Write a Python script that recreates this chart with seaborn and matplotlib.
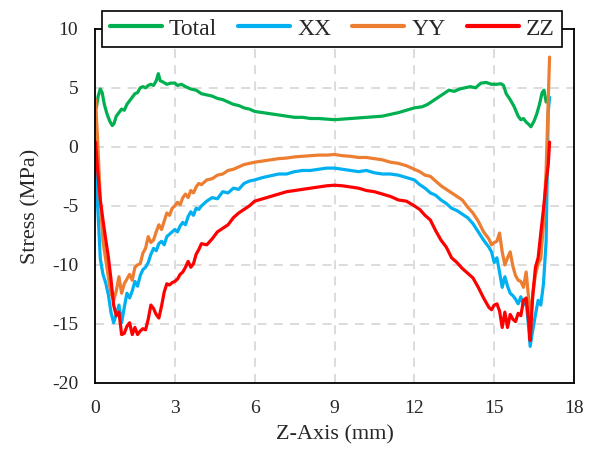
import numpy as np
import pandas as pd
import matplotlib
matplotlib.use("Agg")
import matplotlib.pyplot as plt
import seaborn as sns

# ---- data ----
x_total = [0.05, 0.12, 0.2, 0.27, 0.35, 0.45, 0.55, 0.65, 0.72, 0.8,
           0.9, 1.0, 1.1, 1.2, 1.3, 1.4, 1.5, 1.6, 1.7, 1.8,
           1.9, 2.0, 2.1, 2.2, 2.3, 2.38, 2.45, 2.55, 2.7, 2.85,
           3.0, 3.1, 3.25, 3.4, 3.6, 3.8, 4.0, 4.2, 4.4, 4.6,
           4.8, 5.0, 5.2, 5.4, 5.6, 5.8, 6.0, 6.3, 6.6, 6.9,
           7.2, 7.5, 7.8, 8.1, 8.4, 8.7, 9.0, 9.3, 9.6, 9.9,
           10.2, 10.5, 10.8, 11.1, 11.4, 11.7, 12.0, 12.3, 12.5, 12.7,
           12.9, 13.1, 13.3, 13.5, 13.7, 13.9, 14.1, 14.3, 14.5, 14.7,
           14.9, 15.1, 15.25, 15.35, 15.45, 15.6, 15.75, 15.9, 16.0, 16.1,
           16.2, 16.3, 16.38, 16.5, 16.6, 16.7, 16.8, 16.87, 16.95]
y_total = [3.3, 4.3, 4.9, 4.6, 3.6, 2.8, 2.2, 1.8, 2.0, 2.6,
           2.9, 3.2, 3.1, 3.6, 3.9, 4.2, 4.5, 4.6, 5.0, 5.1,
           5.0, 5.2, 5.3, 5.2, 5.6, 6.2, 5.6, 5.5, 5.3, 5.4,
           5.4, 5.2, 5.3, 5.1, 4.9, 4.8, 4.5, 4.4, 4.3, 4.1,
           4.0, 3.8, 3.6, 3.5, 3.3, 3.2, 3.0, 2.9, 2.8, 2.7,
           2.6, 2.5, 2.5, 2.4, 2.4, 2.35, 2.3, 2.35, 2.4, 2.45,
           2.5, 2.55, 2.6, 2.75, 2.9, 3.1, 3.3, 3.4, 3.6, 3.9,
           4.2, 4.5, 4.8, 4.7, 4.9, 5.0, 5.1, 5.0, 5.4, 5.45,
           5.3, 5.3, 5.35, 5.2, 4.5, 4.0, 3.4, 2.6, 2.3, 2.4,
           2.1, 1.9, 1.7, 2.2, 2.8, 3.6, 4.6, 4.8, 3.8]

x_comp = [0.02, 0.1, 0.2, 0.3, 0.4, 0.5, 0.6, 0.7, 0.8, 0.9,
          1.0, 1.1, 1.2, 1.3, 1.4, 1.5, 1.6, 1.7, 1.8, 1.9,
          2.0, 2.1, 2.2, 2.3, 2.4, 2.5, 2.6, 2.7, 2.8, 2.9,
          3.0, 3.1, 3.2, 3.3, 3.4, 3.5, 3.6, 3.7, 3.8, 3.9,
          4.0, 4.2, 4.4, 4.6, 4.8,
          5.0, 5.2, 5.4, 5.6, 5.8,
          6.0, 6.3, 6.6, 6.9,
          7.2, 7.5, 7.8,
          8.1, 8.4, 8.7,
          9.0, 9.3, 9.6, 9.9,
          10.2, 10.5, 10.8,
          11.1, 11.4, 11.7,
          12.0, 12.2, 12.4, 12.6, 12.8,
          13.0, 13.2, 13.4, 13.6, 13.8,
          14.0, 14.2, 14.4, 14.6, 14.8,
          14.9, 15.0, 15.1, 15.2, 15.3, 15.4, 15.5, 15.6, 15.7, 15.8, 15.9,
          16.0, 16.1, 16.2, 16.3,
          16.35, 16.45, 16.55, 16.65, 16.75, 16.85, 16.95,
          17.03, 17.08]

y_xx = [-0.5, -5.0, -9.5, -10.8, -11.5, -12.5, -14.0, -14.9, -14.2, -13.4,
        -14.9, -13.6, -12.4, -12.8, -12.2, -11.4, -11.8, -10.9, -10.4, -10.2,
        -9.8, -9.1, -8.6, -8.8, -8.2, -8.0, -8.3, -7.6, -7.4, -7.2,
        -7.0, -7.2, -6.7, -6.4, -6.6, -5.9, -5.5, -5.8, -5.2, -5.3,
        -5.0, -4.6, -4.3, -4.4, -3.8,
        -3.9, -3.5, -3.6, -3.1, -2.9,
        -2.8, -2.6, -2.45, -2.3,
        -2.3, -2.1, -2.0,
        -2.0, -1.9, -1.8,
        -1.8, -1.9, -2.0, -2.1,
        -2.0, -2.2, -2.3,
        -2.3, -2.4, -2.6,
        -2.8, -3.2, -3.5, -3.9, -4.1,
        -4.5, -4.8, -5.2, -5.4, -5.7,
        -6.0, -6.5, -7.2, -7.9, -8.5,
        -8.9, -9.8, -9.4, -10.6, -11.9, -11.0, -11.8, -12.4, -12.6, -12.9, -13.3,
        -12.7, -13.4, -13.0, -15.5,
        -16.9, -15.5, -14.2, -13.0, -13.4, -11.6, -8.0,
        3.0, 4.2]

y_yy = [4.0, 0.5, -4.5, -8.0, -9.5, -11.0, -12.4, -13.0, -12.2, -11.0,
        -12.4, -11.6, -11.2, -10.8, -11.3, -10.2, -10.0, -9.9, -9.0, -8.6,
        -7.6, -8.1, -7.9, -7.2, -6.6, -7.0, -6.3, -5.6, -5.8, -5.2,
        -5.0, -4.7, -4.9, -4.3, -4.0, -4.3, -3.7, -3.9, -3.4, -3.1,
        -3.2, -2.8, -2.7, -2.4, -2.3,
        -2.0, -1.9, -1.7, -1.5, -1.4,
        -1.3, -1.2, -1.1, -1.0,
        -0.95, -0.85, -0.8,
        -0.75, -0.7, -0.7,
        -0.65, -0.75, -0.8, -0.9,
        -0.9, -1.0, -1.1,
        -1.3, -1.4, -1.6,
        -1.9, -2.1, -2.4, -2.5, -2.9,
        -3.3, -3.6, -3.9, -4.2, -4.5,
        -5.1, -5.6, -6.3, -7.2, -7.8,
        -8.3, -8.1, -8.0, -7.3, -8.9, -10.0, -9.4, -8.9, -10.1, -10.9, -11.3,
        -11.4, -11.9, -10.6, -13.0,
        -14.7, -12.5, -10.8, -9.9, -9.5, -6.5, -2.0,
        4.0, 7.6]

y_zz = [0.4, -2.0, -4.5, -6.2, -7.8, -9.3, -11.2, -13.4, -14.3, -14.0,
        -15.9, -15.8, -15.2, -14.9, -15.9, -15.3, -15.9, -15.6, -15.4, -15.5,
        -14.6, -13.4, -13.7, -14.2, -14.5, -13.5, -12.3, -11.6, -11.7, -11.5,
        -11.4, -11.2, -10.8, -10.6, -10.2, -9.7, -10.2, -9.9, -9.1, -8.7,
        -8.2, -8.3, -7.8, -7.2, -6.9,
        -6.6, -6.0, -5.6, -5.3, -5.0,
        -4.6, -4.4, -4.2, -4.0,
        -3.8, -3.7, -3.6,
        -3.5, -3.4, -3.3,
        -3.25, -3.3, -3.4, -3.5,
        -3.7, -3.8, -4.0,
        -4.2, -4.5, -4.6,
        -5.0, -5.3, -5.8, -6.2, -7.1,
        -7.9, -8.5, -9.4, -9.8, -10.3,
        -10.7, -11.1, -11.9, -12.8, -13.6,
        -13.8, -13.4, -13.3, -13.9, -15.3, -14.0, -15.3, -14.2, -14.6, -14.8, -14.1,
        -14.3, -13.0, -12.8, -14.9,
        -16.4, -12.5, -10.2, -9.4, -7.3, -5.3, -3.0,
        -1.5, 0.4]

series_names = ["Total", "XX", "YY", "ZZ"]
series_colors = ["#00B050", "#00B0F0", "#ED7D31", "#FF0000"]
x_ticks = [0, 3, 6, 9, 12, 15, 18]
y_ticks = [-20, -15, -10, -5, 0, 5, 10]

# ---- style ----
sns.set_style("white")
plt.rcParams["font.family"] = ["Liberation Serif", "DejaVu Serif"]
plt.rcParams["axes.unicode_minus"] = False

fig, ax = plt.subplots(figsize=(5.9, 4.57), dpi=100)
fig.subplots_adjust(left=0.161, right=0.973, bottom=0.162, top=0.937)

pairs = [(x_total, y_total), (x_comp, y_xx), (x_comp, y_yy), (x_comp, y_zz)]
for (xv, yv), name, col in zip(pairs, series_names, series_colors):
    sns.lineplot(x=xv, y=yv, ax=ax, color=col, lw=2.3, label=name, sort=False)

ax.set_xlim(0, 18)
ax.set_ylim(-20, 10)
ax.set_xticks(x_ticks)
ax.set_yticks(y_ticks)
ax.grid(True, color="#D9D9D9", ls=(0, (5, 4)), lw=1.3)
ax.set_axisbelow(True)
ax.tick_params(axis="both", length=0, labelsize=14)
ax.tick_params(axis="y", pad=12)
ax.tick_params(axis="x", pad=12)
for s in ax.spines.values():
    s.set_color("black")
    s.set_linewidth(1.3)

ax.set_xlabel("Z-Axis (mm)", fontsize=16, labelpad=6)
ax.set_ylabel("Stress (MPa)", fontsize=16, labelpad=8)

leg = ax.legend(loc="center", bbox_to_anchor=(0.495, 1.0), ncol=4,
                fontsize=17, frameon=True, fancybox=False, framealpha=1,
                handlelength=2.2, handletextpad=0.3, columnspacing=0.9,
                borderpad=0.3, edgecolor="black")
leg.get_frame().set_linewidth(1.2)
for h in leg.get_lines():
    h.set_linewidth(3)

fig.savefig("out.png", dpi=100)
